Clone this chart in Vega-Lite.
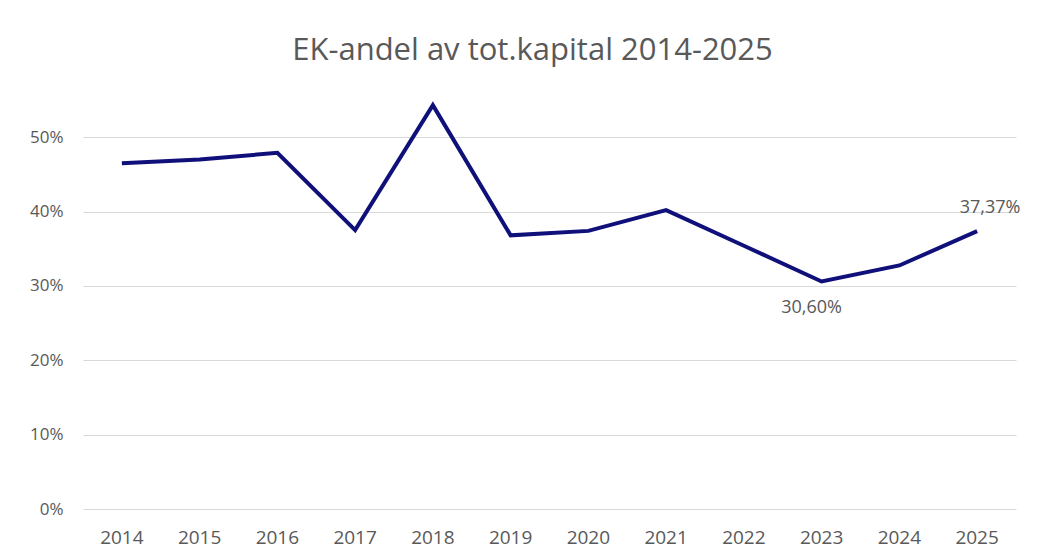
{
  "$schema": "https://vega.github.io/schema/vega-lite/v6.json",
  "width": 933,
  "height": 409,
  "autosize": {"type": "none"},
  "padding": {"left": 83, "top": 100, "right": 22, "bottom": 49},
  "background": "white",
  "config": {
    "view": {"stroke": null},
    "font": "Open Sans",
    "locale": {"number": {"decimal": ",", "thousands": " ", "grouping": [3], "currency": ["", " kr"]}}
  },
  "title": {
    "text": "EK-andel av tot.kapital 2014-2025",
    "font": "Open Sans",
    "fontSize": 31,
    "fontWeight": "normal",
    "color": "#595959",
    "anchor": "middle",
    "dx": -17,
    "offset": 30
  },
  "data": {
    "values": [
      {"year": "2014", "value": 0.465},
      {"year": "2015", "value": 0.470},
      {"year": "2016", "value": 0.479},
      {"year": "2017", "value": 0.375},
      {"year": "2018", "value": 0.543},
      {"year": "2019", "value": 0.368},
      {"year": "2020", "value": 0.374},
      {"year": "2021", "value": 0.402},
      {"year": "2022", "value": 0.354},
      {"year": "2023", "value": 0.306, "label": "below"},
      {"year": "2024", "value": 0.3275},
      {"year": "2025", "value": 0.3737, "label": "above"}
    ]
  },
  "encoding": {
    "x": {
      "field": "year",
      "type": "ordinal",
      "scale": {"type": "band", "paddingInner": 0, "paddingOuter": 0},
      "axis": {
        "title": null,
        "labelAngle": 0,
        "domain": false,
        "ticks": false,
        "labelFont": "Open Sans",
        "labelFontSize": 19,
        "labelColor": "#595959",
        "labelPadding": 19
      }
    },
    "y": {
      "field": "value",
      "type": "quantitative",
      "scale": {"domain": [0, 0.55], "nice": false},
      "axis": {
        "title": null,
        "values": [0, 0.1, 0.2, 0.3, 0.4, 0.5],
        "format": ".0%",
        "domain": false,
        "ticks": false,
        "labelFont": "Open Sans",
        "labelFontSize": 17,
        "labelColor": "#595959",
        "labelPadding": 20,
        "gridColor": "#d9d9d9",
        "gridWidth": 1
      }
    }
  },
  "layer": [
    {
      "mark": {"type": "line", "color": "#10107a", "strokeWidth": 4, "strokeJoin": "miter"}
    },
    {
      "transform": [{"filter": "datum.label == 'below'"}],
      "mark": {"type": "text", "dy": 27, "dx": -10, "fontSize": 18, "color": "#595959", "font": "Open Sans"},
      "encoding": {"text": {"field": "value", "format": ".2%"}}
    },
    {
      "transform": [{"filter": "datum.label == 'above'"}],
      "mark": {"type": "text", "dy": -23, "dx": 13, "fontSize": 18, "color": "#595959", "font": "Open Sans"},
      "encoding": {"text": {"field": "value", "format": ".2%"}}
    }
  ]
}
